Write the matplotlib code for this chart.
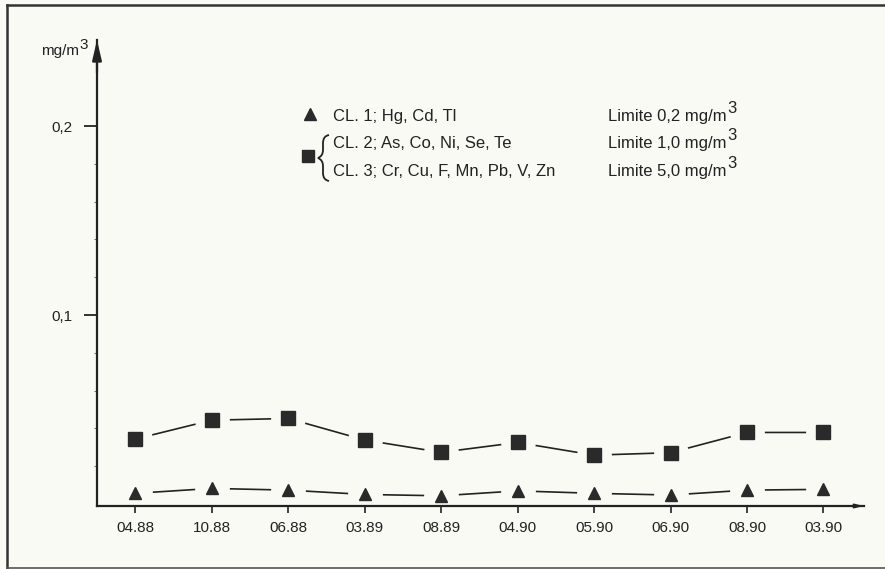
import numpy as np
import matplotlib
matplotlib.use('Agg')
import matplotlib.pyplot as plt
from matplotlib.path import Path
from matplotlib.patches import PathPatch

plt.rcParams['font.family'] = ['Liberation Sans', 'DejaVu Sans']

BG = '#fafaf5'
INK = '#222222'

# ===== データ =====
dates = ['04.88', '10.88', '06.88', '03.89', '08.89',
         '04.90', '05.90', '06.90', '08.90', '03.90']
cl23 = [0.0344, 0.0444, 0.0453, 0.0339, 0.0274,
        0.0326, 0.0259, 0.0272, 0.0379, 0.0379]
cl1 = [0.0057, 0.0083, 0.0074, 0.0051, 0.0044,
       0.0070, 0.0057, 0.0048, 0.0074, 0.0078]
major_ticks = [0.1, 0.2]
major_labels = ['0,1', '0,2']
minor_ticks = [0.02, 0.04, 0.06, 0.08, 0.12, 0.14, 0.16, 0.18]

W, H = 885, 569
fig = plt.figure(figsize=(W / 100, H / 100), dpi=100)
fig.patch.set_facecolor(BG)

# 画素座標用のオーバーレイ
ov = fig.add_axes([0, 0, 1, 1])
ov.set_xlim(0, W)
ov.set_ylim(H, 0)
ov.axis('off')
ov.set_zorder(0)

# 枠
ov.plot([7, 7], [5, 568], color='#333', lw=1.8)
ov.plot([7, W], [5, 5], color='#333', lw=1.8)
ov.plot([7, W], [567.5, 567.5], color='#555', lw=1.2)

# ===== メイン軸 =====
ax = fig.add_axes([97 / W, 1 - 506 / H, (864 - 97) / W, (506 - 40) / H])
ax.set_facecolor('none')
ax.set_zorder(1)
ax.set_axisbelow(False)
x = np.arange(len(dates))
ax.set_xlim(-0.5, 9.53)
ax.set_ylim(-0.001, 0.2455)

for s in ['top', 'right']:
    ax.spines[s].set_visible(False)
for s in ['left', 'bottom']:
    ax.spines[s].set_color(INK)
    ax.spines[s].set_linewidth(1.6)
    ax.spines[s].set_zorder(5)

ax.set_yticks(major_ticks)
ax.set_yticklabels(major_labels)
ax.set_yticks(minor_ticks, minor=True)
ax.tick_params(axis='y', which='major', length=9.5, width=1.3, color=INK,
               labelsize=11, labelcolor=INK, pad=8)
ax.tick_params(axis='y', which='minor', length=2.5, width=0.8, color='#777')
ax.set_xticks(x)
ax.set_xticklabels(dates)
ax.tick_params(axis='x', length=5, width=1.2, color=INK,
               labelsize=11, labelcolor=INK, pad=6)

# 軸の矢印
ax.annotate('', xy=(0, 1.0), xytext=(0, 0.93), xycoords='axes fraction',
            arrowprops=dict(arrowstyle='-|>,head_length=1.2,head_width=0.28',
                            color=INK, lw=1.6, shrinkA=0, shrinkB=0))
ax.annotate('', xy=(1.0, 0), xytext=(0.98, 0), xycoords='axes fraction',
            arrowprops=dict(arrowstyle='-|>,head_length=0.5,head_width=0.12',
                            color=INK, lw=1.2, shrinkA=0, shrinkB=0))

# 系列（マーカー周りの線を切る）
for vals, mk, ms in [(cl23, 's', 10), (cl1, '^', 9)]:
    ax.plot(x, vals, color=INK, lw=1.2, zorder=1.0, clip_on=False)
    ax.plot(x, vals, 'o', ms=24, color=BG, mec=BG, zorder=1.2, clip_on=False)
    ax.plot(x, vals, mk, ms=ms, color='#2a2a2a', mec='#2a2a2a', zorder=6,
            clip_on=False)

# 単位
ov.text(79, 55, 'mg/m', ha='right', va='baseline', fontsize=11, color=INK)
ov.text(79, 49, '3', ha='left', va='baseline', fontsize=11, color=INK)

# ===== 凡例 =====
ov.plot(310, 114, '^', ms=8, color='#2a2a2a')
ov.plot(308, 156, 's', ms=9, color='#2a2a2a')

brace = Path([(329, 135), (323, 136), (323, 143), (323, 150),
              (323, 156), (318, 158),
              (323, 160), (323, 166), (323, 173),
              (323, 180), (329, 181)],
             [Path.MOVETO, Path.CURVE3, Path.CURVE3, Path.LINETO,
              Path.CURVE3, Path.CURVE3,
              Path.CURVE3, Path.CURVE3, Path.LINETO,
              Path.CURVE3, Path.CURVE3])
ov.add_patch(PathPatch(brace, fill=False, lw=1.3, ec=INK))

rows = [('CL. 1; Hg, Cd, Tl', 'Limite 0,2 mg/m', 121),
        ('CL. 2; As, Co, Ni, Se, Te', 'Limite 1,0 mg/m', 148),
        ('CL. 3; Cr, Cu, F, Mn, Pb, V, Zn', 'Limite 5,0 mg/m', 176)]
for left, right, yy in rows:
    ov.text(333, yy, left, ha='left', va='baseline', fontsize=12, color=INK)
    ov.text(727, yy, right, ha='right', va='baseline', fontsize=12, color=INK)
    ov.text(727, yy - 8, '3', ha='left', va='baseline', fontsize=12, color=INK)

fig.savefig('out.png', dpi=100, facecolor=BG)
